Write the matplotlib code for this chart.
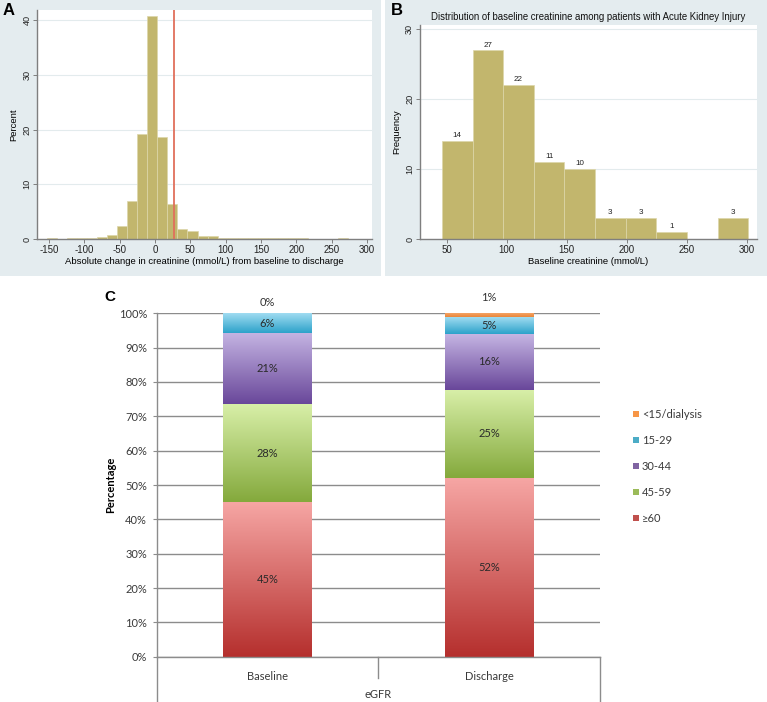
import numpy as np
import matplotlib
matplotlib.use('Agg')
import matplotlib.pyplot as plt
from matplotlib.patches import Rectangle, Patch
from matplotlib.lines import Line2D
from matplotlib.colors import LinearSegmentedColormap

# ---------------- data ----------------
# Panel A: histogram of absolute change in creatinine (percent per bin)
a_edge_start = -152.9
a_bin_width = 14.2
a_percent = [0.1, 0.0, 0.1, 0.1, 0.1, 0.4, 0.8, 2.4, 6.9, 19.2, 40.9, 18.6, 6.4,
             1.9, 1.4, 0.5, 0.6, 0.2, 0.2, 0.2, 0.1, 0.1, 0.1, 0.1, 0.1, 0.1,
             0.0, 0.0, 0.0, 0.1, 0.0, 0.0]
a_threshold = 26.5
a_xticks = [-150, -100, -50, 0, 50, 100, 150, 200, 250, 300]
a_yticks = [0, 10, 20, 30, 40]

# Panel B: histogram of baseline creatinine (frequency)
b_edge_start = 46.0
b_bin_width = 25.5
b_freq = [14, 27, 22, 11, 10, 3, 3, 1, 0, 3]
b_xticks = [50, 100, 150, 200, 250, 300]
b_yticks = [0, 10, 20, 30]

# Panel C: stacked eGFR distribution
c_groups = ['Baseline', 'Discharge']
c_categories = ['≥60', '45-59', '30-44', '15-29', '<15/dialysis']
c_ge60 = [45.0, 52.1]
c_45_59 = [28.5, 25.6]
c_30_44 = [20.7, 16.3]
c_15_29 = [5.8, 4.8]
c_lt15 = [0.0, 1.2]
c_label_ge60 = ['45%', '52%']
c_label_45_59 = ['28%', '25%']
c_label_30_44 = ['21%', '16%']
c_label_15_29 = ['6%', '5%']
c_label_lt15 = ['0%', '1%']
c_yticks = [0, 10, 20, 30, 40, 50, 60, 70, 80, 90, 100]

# ---------------- figure ----------------
W, H = 767, 702
fig = plt.figure(figsize=(W / 100, H / 100), dpi=100)
fig.patch.set_facecolor('white')

def fx(px):
    return px / W

def fy(py):
    return 1 - py / H

BG = '#e4ecef'
fig.patches.append(Rectangle((0, fy(276)), fx(380.7), 276 / H, transform=fig.transFigure,
                             facecolor=BG, edgecolor='none', zorder=-10))
fig.patches.append(Rectangle((fx(385), fy(276)), fx(767 - 385), 276 / H, transform=fig.transFigure,
                             facecolor=BG, edgecolor='none', zorder=-10))

STATA_FONT = ['Liberation Sans', 'DejaVu Sans']
BAR_COLOR = '#c2b66d'
GRID = '#e3ebed'
SPINE = '#7f7f7f'

def stata_axes(ax):
    ax.set_facecolor('white')
    for s in ['top', 'right']:
        ax.spines[s].set_visible(False)
    for s in ['left', 'bottom']:
        ax.spines[s].set_color(SPINE)
        ax.spines[s].set_linewidth(1.0)
    ax.tick_params(axis='both', colors='#222222', labelsize=7, length=3, width=0.7,
                   direction='out', pad=1.5)
    ax.tick_params(axis='y', labelsize=6.6, pad=1.2)
    ax.tick_params(axis='both', color=SPINE)
    ax.yaxis.grid(True, color=GRID, linewidth=0.8)
    ax.set_axisbelow(True)

# ---------- Panel A ----------
axA = fig.add_axes([fx(37.3), fy(239), fx(371.7 - 37.3), (239 - 9.5) / H])
stata_axes(axA)
a_left = [a_edge_start + i * a_bin_width for i in range(len(a_percent))]
axA.bar(a_left, a_percent, width=a_bin_width, align='edge', color=BAR_COLOR,
        edgecolor='#ddd6aa', linewidth=0.5, zorder=2)
axA.axvline(a_threshold, color='#e0705c', linewidth=1.3, zorder=3)
axA.set_xlim(-166.5, 306.5)
axA.set_ylim(0, 42.0)
axA.set_xticks(a_xticks)
axA.set_xticklabels([str(t) for t in a_xticks], family=STATA_FONT)
axA.set_yticks(a_yticks)
axA.set_yticklabels([str(t) for t in a_yticks], family=STATA_FONT, rotation=90, va='center')
axA.set_xlabel('Absolute change in creatinine (mmol/L) from baseline to discharge',
               fontsize=6.8, family=STATA_FONT, labelpad=1)
axA.set_ylabel('Percent', fontsize=6.8, family=STATA_FONT, labelpad=3)
fig.text(fx(3), fy(15), 'A', fontsize=12, fontweight='bold', family=STATA_FONT)

# ---------- Panel B ----------
axB = fig.add_axes([fx(420), fy(239), fx(756.7 - 420), (239 - 25) / H])
stata_axes(axB)
b_left = [b_edge_start + i * b_bin_width for i in range(len(b_freq))]
bars = axB.bar(b_left, b_freq, width=b_bin_width, align='edge', color=BAR_COLOR,
               edgecolor='#ddd6aa', linewidth=0.5, zorder=2)
for rect, v in zip(bars, b_freq):
    if v > 0:
        axB.annotate(str(v), (rect.get_x() + rect.get_width() / 2, v),
                     xytext=(0, 1.2), textcoords='offset points', ha='center', va='bottom',
                     fontsize=5.8, family=STATA_FONT, color='#222222')
axB.set_xlim(27.8, 308)
axB.set_ylim(0, 30.6)
axB.set_xticks(b_xticks)
axB.set_xticklabels([str(t) for t in b_xticks], family=STATA_FONT)
axB.set_yticks(b_yticks)
axB.set_yticklabels([str(t) for t in b_yticks], family=STATA_FONT, rotation=90, va='center')
axB.set_xlabel('Baseline creatinine (mmol/L)', fontsize=6.8, family=STATA_FONT, labelpad=1)
axB.set_ylabel('Frequency', fontsize=6.8, family=STATA_FONT, labelpad=3)
fig.text(fx(588), fy(17), 'Distribution of baseline creatinine among patients with Acute Kidney Injury',
         fontsize=6.9, family=STATA_FONT, ha='center', va='center', color='#111111')
fig.text(fx(391), fy(15), 'B', fontsize=12, fontweight='bold', family=STATA_FONT)

# ---------- Panel C ----------
OFFICE_FONT = ['Lato', 'DejaVu Sans']
axC = fig.add_axes([fx(156.7), fy(656.7), fx(600 - 156.7), (656.7 - 313.3) / H])
axC.set_facecolor('white')
for s in ['top', 'right']:
    axC.spines[s].set_visible(False)
axC.spines['left'].set_color('#8c8c8c')
axC.spines['bottom'].set_color('#8c8c8c')
axC.spines['left'].set_linewidth(1.0)
axC.spines['bottom'].set_linewidth(1.0)
axC.yaxis.grid(True, color='#8c8c8c', linewidth=1.0)
axC.set_axisbelow(True)

series = [
    (c_ge60, c_label_ge60, '#c0504d', '#f6a6a4', '#b52f2d'),
    (c_45_59, c_label_45_59, '#9bbb59', '#d8efa8', '#84a93c'),
    (c_30_44, c_label_30_44, '#8064a2', '#c5b5e3', '#69479a'),
    (c_15_29, c_label_15_29, '#4bacc6', '#a0dcf1', '#2ca2ca'),
    (c_lt15, c_label_lt15, '#f79646', '#f7ab6f', '#e9853a'),
]
x = np.arange(len(c_groups))
bw = 0.4
bottom = np.zeros(len(c_groups))
grad = np.linspace(0, 1, 256).reshape(-1, 1)
handles = []
for (vals, labs, base, top, bot), cat in zip(series, c_categories):
    vals = np.array(vals)
    bars = axC.bar(x, vals, width=bw, bottom=bottom, color=base, edgecolor='none', zorder=2)
    cmap = LinearSegmentedColormap.from_list('g_' + cat, [bot, top])
    for rect in bars:
        h = rect.get_height()
        if h <= 0:
            continue
        x0 = rect.get_x()
        im = axC.imshow(grad, extent=[x0, x0 + rect.get_width(), rect.get_y(), rect.get_y() + h],
                        origin='lower', cmap=cmap, aspect='auto', zorder=2.5,
                        interpolation='bilinear')
        im.set_clip_path(rect)
    for i, (v, lab) in enumerate(zip(vals, labs)):
        if cat == '<15/dialysis':
            off = 7.5 if v <= 0 else 11.5
            axC.annotate(lab, (x[i], bottom[i] + v), xytext=(0, off), textcoords='offset points',
                         ha='center', va='center', fontsize=8, family=OFFICE_FONT, color='#333333')
        else:
            axC.text(x[i], bottom[i] + v / 2, lab, ha='center', va='center', fontsize=8,
                     family=OFFICE_FONT, color='#2a2a2a', zorder=4)
    bottom = bottom + vals
    handles.append(Patch(facecolor=base, edgecolor='none', label=cat))

axC.set_xlim(-0.5, 1.5)
axC.set_ylim(0, 100)
axC.set_yticks(c_yticks)
axC.set_yticklabels([f'{t}%' for t in c_yticks], family=OFFICE_FONT, fontsize=8, color='#3a3a3a')
axC.tick_params(axis='y', length=3, color='#8c8c8c', pad=4)
axC.set_xticks(x)
axC.set_xticklabels(c_groups, family=OFFICE_FONT, fontsize=8, color='#3a3a3a')
axC.tick_params(axis='x', length=0, pad=10)
axC.set_ylabel('Percentage', fontsize=8, fontweight='bold', family=OFFICE_FONT, labelpad=2)

ax_h_px = 656.7 - 313.3
for xa, y_end in [(0, (702 - 656.7) / ax_h_px), (1, (702 - 656.7) / ax_h_px), (0.5, (678 - 656.7) / ax_h_px)]:
    axC.add_line(Line2D([xa, xa], [0, -y_end], transform=axC.transAxes, color='#8c8c8c',
                        linewidth=1.0, clip_on=False))
axC.text(0.5, -(694 - 656.7) / ax_h_px, 'eGFR', transform=axC.transAxes, ha='center', va='center',
         fontsize=8, family=OFFICE_FONT, color='#3a3a3a')

leg = fig.legend(handles=handles[::-1], loc='center left', bbox_to_anchor=(fx(627), fy(466.5)),
                 frameon=False, handlelength=0.55, handleheight=0.55, handletextpad=0.3,
                 labelspacing=1.35, borderpad=0, prop={'family': OFFICE_FONT, 'size': 8})
for t in leg.get_texts():
    t.set_color('#3a3a3a')

fig.text(fx(104), fy(297), 'C', fontsize=11, fontweight='bold', family=STATA_FONT, va='center')

fig.savefig('out.png', dpi=100)
